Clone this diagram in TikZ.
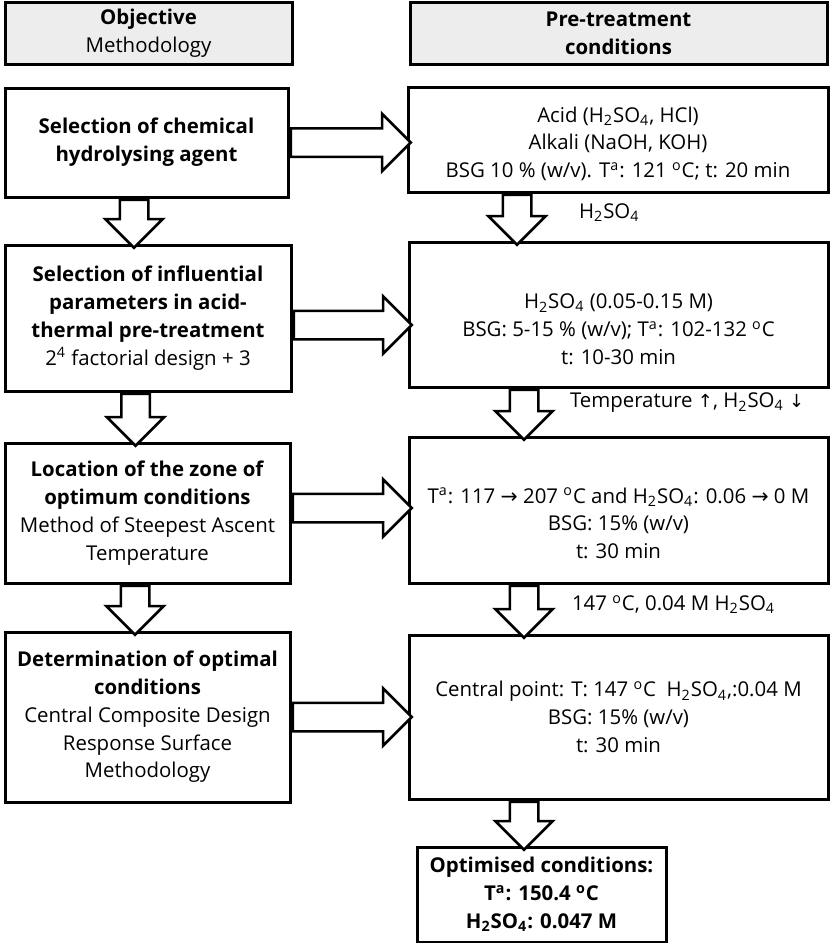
\documentclass[tikz,border=0pt]{standalone}
\usepackage{fontspec}
\setmainfont{Open Sans}
\newfontfamily\symfont{DejaVu Sans}
\usetikzlibrary{arrows.meta,positioning,shapes.arrows}

\newcommand{\hso}{H\textsubscript{2}SO\textsubscript{4}}
\newcommand{\Ta}{T\textsuperscript{a}}
\newcommand{\degc}{\textsuperscript{o}C}
\newcommand{\uparr}{{\symfont\small ↑}}
\newcommand{\dnarr}{{\symfont\small ↓}}
\newcommand{\rarr}{{\symfont →}}
\newcommand{\lowstrut}[1]{\rule{0pt}{#1}}

\begin{document}
\begin{tikzpicture}[x=0.5pt,y=-0.5pt,
  box/.style={draw,line width=1.5pt,align=center,inner sep=0pt,
    font=\fontsize{10.2}{13.9}\selectfont},
  headbox/.style={box,fill=black!7},
  barr/.style={single arrow,draw,line width=1.25pt,fill=white,
    inner xsep=0pt,inner ysep=6.5pt,single arrow head extend=7.25pt,
    single arrow tip angle=90,minimum height=#1,anchor=tail},
  lab/.style={anchor=west,font=\fontsize{10.2}{13.9}\selectfont}
]
  \useasboundingbox (0,0) rectangle (830,943);
  % column heads
  \node[headbox,minimum width=143.5pt,minimum height=31pt] (hl) at (148.5,33)
    {\textbf{Objective}\\Methodology};
  \node[headbox,minimum width=208.5pt,minimum height=31pt] (hr) at (618.5,33)
    {\textbf{Pre-treatment}\\\textbf{conditions}};
  % objective column
  \node[box,minimum width=141.5pt,minimum height=54.5pt] (l1) at (146.5,142.5)
    {\textbf{Selection of chemical}\\\textbf{hydrolysing agent}};
  \node[box,minimum width=143pt,minimum height=73pt] (l2) at (148,318)
    {\textbf{Selection of influential}\\\textbf{parameters in acid-}\\
     \textbf{thermal pre-treatment}\\2\textsuperscript{4} factorial design + 3};
  \node[box,minimum width=142.5pt,minimum height=70pt] (l3) at (147.5,513)
    {\textbf{Location of the zone of}\\\textbf{optimum conditions}\\
     Method of Steepest Ascent\\Temperature};
  \node[box,minimum width=142.5pt,minimum height=85pt] (l4) at (147.5,717)
    {\textbf{Determination of optimal}\\\textbf{conditions}\\
     Central Composite Design\\Response Surface\\Methodology};
  % conditions column
  \node[box,minimum width=210pt,minimum height=52.5pt] (r1) at (618,139.5)
    {\lowstrut{12pt}Acid (\hso, HCl)\\Alkali (NaOH, KOH)\\BSG 10 \% (w/v). \Ta: 121 \degc; t: 20 min};
  \node[box,minimum width=209.5pt,minimum height=72.5pt] (r2) at (618.5,314.5)
    {\lowstrut{22pt}\hso{} (0.05-0.15 M)\\BSG: 5-15 \% (w/v); \Ta: 102-132 \degc\\t: 10-30 min};
  \node[box,minimum width=209.5pt,minimum height=73pt] (r3) at (618.5,510)
    {\lowstrut{21pt}\Ta: 117 \rarr{} 207 \degc{} and \hso: 0.06 \rarr{} 0 M\\BSG: 15\% (w/v)\\t: 30 min};
  \node[box,minimum width=209.5pt,minimum height=82pt] (r4) at (618.5,717)
    {Central point: T: 147 \degc\ \ \hso,:0.04 M\\BSG: 15\% (w/v)\\t: 30 min};
  \node[box,minimum width=124.5pt,minimum height=47.5pt] (fin) at (541.5,894.5)
    {\textbf{Optimised conditions:}\\\textbf{\Ta: 150.4 \degc}\\\textbf{\hso: 0.047 M}};
  % block arrows
  \node[barr=60pt] (a11) at (l1.east) {};
  \node[barr=59pt] (a22) at ([yshift=-3.5pt]l2.east) {};
  \node[barr=59.5pt] (a33) at ([yshift=2.5pt]l3.east) {};
  \node[barr=59.5pt] (a44) at (l4.east) {};
  \node[barr=24pt,rotate=-90] (al12) at ([xshift=-6.25pt]l1.south) {};
  \node[barr=26pt,rotate=-90] (al23) at ([xshift=-6.25pt]l2.south) {};
  \node[barr=24.5pt,rotate=-90] (al34) at ([xshift=-6.25pt]l3.south) {};
  \node[barr=25pt,rotate=-90] (ar12) at ([xshift=-50.5pt]r1.south) {};
  \node[barr=25pt,rotate=-90] (ar23) at ([xshift=-47.25pt]r2.south) {};
  \node[barr=26pt,rotate=-90] (ar34) at ([xshift=-47.25pt]r3.south) {};
  \node[barr=24pt,rotate=-90] (ar4f) at ([xshift=-47.25pt]r4.south) {};
  % arrow labels
  \node[lab] (t12) at ([xshift=27.5pt]ar12.center) {\hso};
  \node[lab] (t23) at ([xshift=19.5pt,yshift=2.5pt]ar23.center)
    {Temperature \uparr, \hso\ \dnarr};
  \node[lab] (t34) at ([xshift=20.5pt]ar34.center) {147 \degc, 0.04 M \hso};
\end{tikzpicture}
\end{document}
